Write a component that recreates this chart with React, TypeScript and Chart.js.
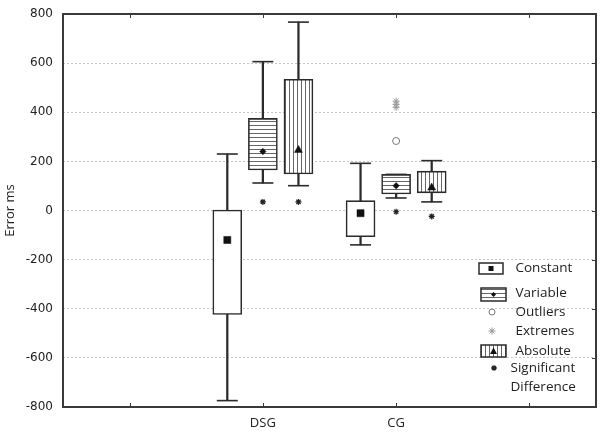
import React, { useEffect, useRef } from "react";
import { Chart, registerables } from "chart.js";

Chart.register(...registerables);

// ---------- data ----------
const CATEGORIES = ["DSG", "CG"];
const SERIES = ["Constant", "Variable", "Absolute"];
const X_TICK_LABELS = ["", "DSG", "CG", ""];
const Y_TICKS = [800, 600, 400, 200, 0, -200, -400, -600, -800];

// indexed [series][category]
const WHISKER_MIN = [[-774, -140], [112, 51], [101, 35]];
const Q1 = [[-423, -107], [165, 67], [149, 72]];
const Q3 = [[2, 40], [375, 147], [534, 160]];
const WHISKER_MAX = [[230, 192], [606, 147], [767, 203]];
const MEANS = [[-120, -11], [240, 101], [246, 93]];
const SIGNIFICANT = [[null, null], [35, -5], [35, -24]];

// CG / Variable
const OUTLIERS = [283];
const EXTREMES = [445, 432, 420];

const LEGEND_LABELS = ["Constant", "Variable", "Outliers", "Extremes", "Absolute", "Significant", "Difference"];

// ---------- helpers ----------
const FONT = "'Open Sans', sans-serif";
const INK = "#2b2b2b";
const GROUP_OFFSET = 0.267;
const xPos = (s: number, c: number) => c + 1.5 + (s - 1) * GROUP_OFFSET;

function makeHatch(vertical: boolean): CanvasPattern {
  const c = document.createElement("canvas");
  c.width = 4;
  c.height = 4;
  const g = c.getContext("2d")!;
  g.fillStyle = "#ffffff";
  g.fillRect(0, 0, 4, 4);
  g.fillStyle = "#666666";
  if (vertical) g.fillRect(1, 0, 1, 4);
  else g.fillRect(0, 1, 4, 1);
  return g.createPattern(c, "repeat")!;
}

function drawStar(ctx: CanvasRenderingContext2D, x: number, y: number, r: number) {
  ctx.beginPath();
  for (let k = 0; k < 4; k++) {
    const a = (k * Math.PI) / 4;
    ctx.moveTo(x - Math.cos(a) * r, y - Math.sin(a) * r);
    ctx.lineTo(x + Math.cos(a) * r, y + Math.sin(a) * r);
  }
  ctx.stroke();
}

export default function App() {
  const ref = useRef<HTMLCanvasElement | null>(null);

  useEffect(() => {
    if (!ref.current) return;
    const hatchH = makeHatch(false);
    const hatchV = makeHatch(true);
    const fills: (string | CanvasPattern)[] = ["#ffffff", hatchH, hatchV];

    const datasets: any[] = [];

    // whisker stems
    datasets.push({
      type: "bar",
      label: "whiskers",
      data: SERIES.flatMap((_, s) =>
        CATEGORIES.map((_, c) => ({ x: xPos(s, c), y: [WHISKER_MIN[s][c], WHISKER_MAX[s][c]] }))
      ),
      backgroundColor: INK,
      borderWidth: 0,
      grouped: false,
      categoryPercentage: 1,
      barPercentage: 1,
      maxBarThickness: 1.6,
      order: 6,
    });

    // whisker caps
    datasets.push({
      type: "scatter",
      label: "caps",
      data: SERIES.flatMap((_, s) =>
        CATEGORIES.flatMap((_, c) => [
          { x: xPos(s, c), y: WHISKER_MIN[s][c] },
          { x: xPos(s, c), y: WHISKER_MAX[s][c] },
        ])
      ),
      pointStyle: "line",
      pointRadius: 10.5,
      pointBorderColor: INK,
      pointBorderWidth: 1.6,
      order: 5,
    });

    // boxes
    SERIES.forEach((name, s) => {
      datasets.push({
        type: "bar",
        label: name,
        data: CATEGORIES.map((_, c) => ({ x: xPos(s, c), y: [Q1[s][c], Q3[s][c]] })),
        backgroundColor: fills[s],
        borderColor: INK,
        borderWidth: 1.6,
        borderSkipped: false,
        grouped: false,
        categoryPercentage: 1,
        barPercentage: 1,
        maxBarThickness: 29,
        order: 4,
      });
    });

    // means
    const meanStyles = ["rect", "rectRot", "triangle"];
    const meanRadius = [5, 3.2, 4.6];
    SERIES.forEach((name, s) => {
      datasets.push({
        type: "scatter",
        label: name + " mean",
        data: CATEGORIES.map((_, c) => ({ x: xPos(s, c), y: MEANS[s][c] })),
        pointStyle: meanStyles[s],
        pointRadius: meanRadius[s],
        pointBackgroundColor: "#111",
        pointBorderColor: "#111",
        pointBorderWidth: 0.5,
        order: 1,
      });
    });

    // significance stars
    datasets.push({
      type: "scatter",
      label: "significant",
      data: SERIES.flatMap((_, s) =>
        CATEGORIES.map((_, c) => ({ x: xPos(s, c), y: SIGNIFICANT[s][c] })).filter((p) => p.y !== null)
      ),
      pointStyle: "star",
      pointRadius: 3,
      pointBorderColor: "#222",
      pointBorderWidth: 1.2,
      order: 1,
    });

    // outliers
    datasets.push({
      type: "scatter",
      label: "outliers",
      data: OUTLIERS.map((v) => ({ x: xPos(1, 1), y: v })),
      pointStyle: "circle",
      pointRadius: 3.5,
      pointBackgroundColor: "#fff",
      pointBorderColor: "#777",
      pointBorderWidth: 1,
      order: 1,
    });

    // extremes
    datasets.push({
      type: "scatter",
      label: "extremes",
      data: EXTREMES.map((v) => ({ x: xPos(1, 1), y: v })),
      pointStyle: "star",
      pointRadius: 3.5,
      pointBorderColor: "#999",
      pointBorderWidth: 1,
      order: 1,
    });

    const framePlugin = {
      id: "frame",
      afterDraw(chart: any) {
        const { ctx, chartArea: a, scales } = chart;
        ctx.save();
        ctx.strokeStyle = "#3a3a3a";
        ctx.lineWidth = 2;
        ctx.strokeRect(a.left, a.top, a.right - a.left, a.bottom - a.top);

        ctx.lineWidth = 1;
        ctx.beginPath();
        X_TICK_LABELS.forEach((_, i) => {
          const x = Math.round(scales.x.getPixelForValue(i + 0.5)) + 0.5;
          ctx.moveTo(x, a.top);
          ctx.lineTo(x, a.top + 4);
          ctx.moveTo(x, a.bottom);
          ctx.lineTo(x, a.bottom - 4);
        });
        Y_TICKS.forEach((v) => {
          const y = Math.round(scales.y.getPixelForValue(v)) + 0.5;
          ctx.moveTo(a.right, y);
          ctx.lineTo(a.right - 4, y);
        });
        ctx.stroke();

        // legend
        const lx = a.right - 117;
        const ly = a.top;
        ctx.strokeStyle = INK;
        ctx.lineWidth = 1.5;

        // Constant
        ctx.fillStyle = "#fff";
        ctx.fillRect(lx, ly + 249, 24, 11);
        ctx.strokeRect(lx, ly + 249, 24, 11);
        ctx.fillStyle = "#111";
        ctx.fillRect(lx + 9.5, ly + 252, 5, 5);

        // Variable
        ctx.fillStyle = hatchH;
        ctx.fillRect(lx + 2, ly + 274, 25, 13);
        ctx.strokeRect(lx + 2, ly + 274, 25, 13);
        ctx.fillStyle = "#111";
        ctx.beginPath();
        ctx.moveTo(lx + 14.5, ly + 278);
        ctx.lineTo(lx + 17, ly + 280.5);
        ctx.lineTo(lx + 14.5, ly + 283);
        ctx.lineTo(lx + 12, ly + 280.5);
        ctx.closePath();
        ctx.fill();

        // Outliers
        ctx.strokeStyle = "#777";
        ctx.lineWidth = 1;
        ctx.beginPath();
        ctx.arc(lx + 13, ly + 298, 3, 0, Math.PI * 2);
        ctx.stroke();

        // Extremes
        ctx.strokeStyle = "#999";
        drawStar(ctx, lx + 13, ly + 317, 3.5);

        // Absolute
        ctx.strokeStyle = INK;
        ctx.lineWidth = 1.5;
        ctx.fillStyle = hatchV;
        ctx.fillRect(lx + 2, ly + 331, 25, 12);
        ctx.strokeRect(lx + 2, ly + 331, 25, 12);
        ctx.fillStyle = "#111";
        ctx.beginPath();
        ctx.moveTo(lx + 14.5, ly + 333.5);
        ctx.lineTo(lx + 18, ly + 340);
        ctx.lineTo(lx + 11, ly + 340);
        ctx.closePath();
        ctx.fill();

        // Significant difference
        ctx.strokeStyle = "#222";
        ctx.lineWidth = 1.3;
        drawStar(ctx, lx + 15, ly + 354, 2.8);

        ctx.fillStyle = "#222";
        ctx.font = `13.5px ${FONT}`;
        ctx.textBaseline = "middle";
        ctx.textAlign = "left";
        const tx = lx + 36.5;
        ctx.fillText(LEGEND_LABELS[0], tx, ly + 254.5);
        ctx.fillText(LEGEND_LABELS[1], tx, ly + 279);
        ctx.fillText(LEGEND_LABELS[2], tx, ly + 298);
        ctx.fillText(LEGEND_LABELS[3], tx, ly + 317);
        ctx.fillText(LEGEND_LABELS[4], tx, ly + 337);
        ctx.fillText(LEGEND_LABELS[5], tx - 5, ly + 354);
        ctx.fillText(LEGEND_LABELS[6], tx - 5, ly + 373.5);
        ctx.restore();
      },
    };

    const chart = new Chart(ref.current, {
      type: "bar",
      data: { datasets },
      plugins: [framePlugin],
      options: {
        responsive: false,
        animation: false,
        events: [],
        layout: { autoPadding: false, padding: { top: 14, right: 4, left: 0, bottom: 0 } },
        plugins: { legend: { display: false }, tooltip: { enabled: false } },
        scales: {
          x: {
            type: "linear",
            min: 0,
            max: 4,
            offset: false,
            afterBuildTicks: (s: any) => {
              s.ticks = X_TICK_LABELS.map((_, i) => ({ value: i + 0.5 }));
            },
            afterFit: (s: any) => {
              s.height = 28;
            },
            grid: { display: false, drawTicks: false, offset: false },
            border: { display: false },
            ticks: {
              autoSkip: false,
              maxRotation: 0,
              padding: 8,
              color: "#222",
              font: { family: FONT, size: 13 },
              callback: (_v: any, i: number) => X_TICK_LABELS[i],
            },
          },
          y: {
            type: "linear",
            min: -800,
            max: 800,
            afterBuildTicks: (s: any) => {
              s.ticks = Y_TICKS.map((v) => ({ value: v }));
            },
            afterFit: (s: any) => {
              s.width = 63;
            },
            grid: {
              drawTicks: false,
              lineWidth: 1,
              color: (c: any) => (c.tick && Math.abs(c.tick.value) === 800 ? "rgba(0,0,0,0)" : "#c4c4c4"),
            },
            border: { display: false, dash: [2, 2] },
            ticks: {
              padding: 10,
              color: "#222",
              font: { family: "'DejaVu Sans', sans-serif", size: 12, lineHeight: 0.6 },
            },
            title: {
              display: true,
              text: "Error ms",
              color: "#222",
              font: { family: FONT, size: 13 },
              padding: { top: 2, bottom: 0 },
            },
          },
        },
      } as any,
    });

    return () => chart.destroy();
  }, []);

  return (
    <div style={{ position: "absolute", left: 0, top: 0, width: 600, height: 435, background: "#fff" }}>
      <canvas ref={ref} width={600} height={435} />
    </div>
  );
}
